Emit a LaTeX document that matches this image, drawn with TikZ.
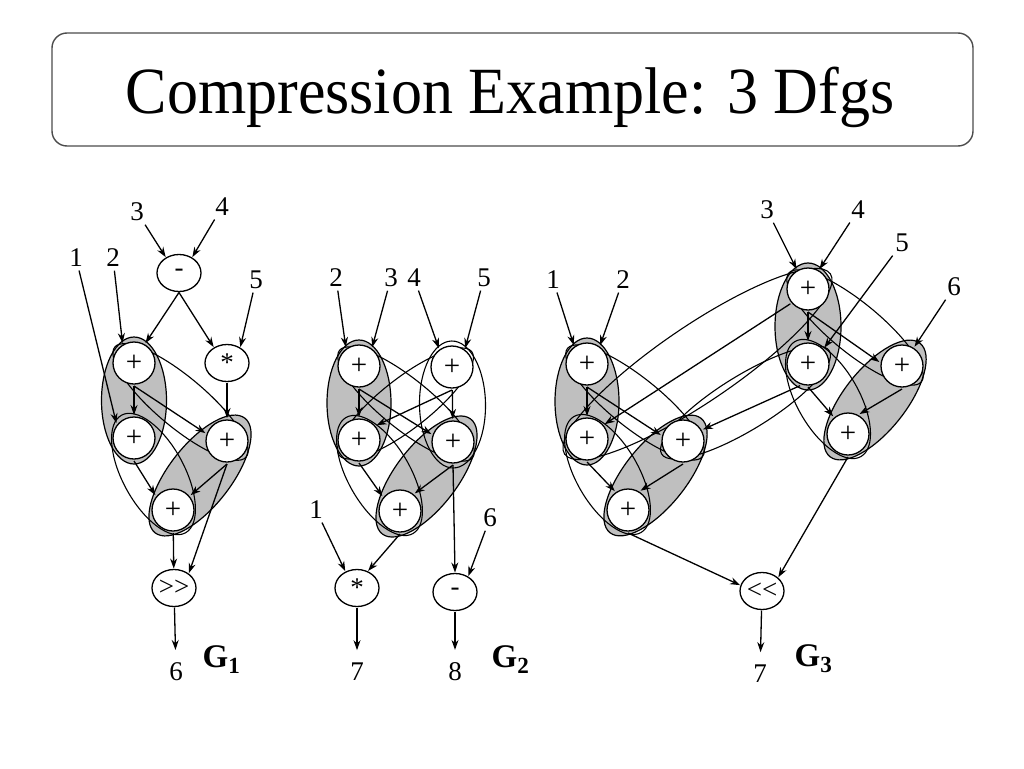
\documentclass[tikz,border=0pt]{standalone}
\usepackage{fontspec}
\setmainfont{Liberation Serif}
\usepackage{graphicx}
\usetikzlibrary{arrows.meta,calc,backgrounds,shapes.geometric}
\definecolor{hullgray}{gray}{0.75}
% ellipse round two nodes: [style]{a}{b}{extra}{half width}
\newcommand{\hull}[5][pairthin]{%
  \path[#1] let \p1=($(#3)-(#2)$), \n1={atan2(\y1,\x1)}, \n2={veclen(\x1,\y1)/2}
    in ($(#2)!0.5!(#3)$) ellipse [x radius={\n2+#4pt}, y radius=#5pt, rotate=\n1];}
\begin{document}
\begin{tikzpicture}[x=1pt,y=-1pt,line width=1.3pt,>={Stealth[length=10pt,width=7pt]},
	addnode/.style={circle,draw,fill=white,minimum size=42pt,inner sep=0pt,outer sep=2pt,font=\fontsize{29}{29}\selectfont},
	opnode/.style={ellipse,draw,fill=white,minimum width=44pt,minimum height=37pt,inner sep=0pt,outer sep=1pt,font=\fontsize{27}{27}\selectfont},
	inlbl/.style={inner sep=3pt,font=\fontsize{27}{27}\selectfont},
	outlbl/.style={inner sep=0pt,outer ysep=13pt,font=\fontsize{27}{27}\selectfont},
	glbl/.style={inner sep=0pt,font=\fontsize{33}{33}\selectfont\bfseries},
	pairshaded/.style={draw,fill=hullgray,line width=1.2pt},
	pairthin/.style={draw,line width=1.1pt},
	titlebox/.style={draw=black!70,line width=1.4pt,rounded corners=15pt,minimum width=921pt,minimum height=113pt}]
		\useasboundingbox (0,0) rectangle (1024,768);
		
		% title
		\node[titlebox] (tbox) at (512.5,89.5) {};
		\node[anchor=base,inner sep=0pt,font=\fontsize{66}{70}\selectfont] (ttext) at (510,113) {\scalebox{0.94}[1]{Compression Example: 3 Dfgs}};
		
		% G1
		\node[opnode] (g1sub) at (179,273) {-};
		\node[opnode] (g1mul) at (227,363) {*};
		\node[addnode] (g1a1) at (134,363) {+};
		\node[addnode] (g1a2) at (134,438) {+};
		\node[addnode] (g1a3) at (227,441) {+};
		\node[addnode] (g1a4) at (173,510) {+};
		\node[opnode] (g1shr) at (174,588) {>{}>};
		\node[inlbl] (g1i1) at (76,258) {1};
		\node[inlbl] (g1i2) at (113,258) {2};
		\node[inlbl] (g1i3) at (137,212) {3};
		\node[inlbl] (g1i4) at (222,207) {4};
		\node[inlbl] (g1i5) at (256,280) {5};
		\node[outlbl] (g1o) at (176,672) {6};
		\node[glbl,anchor=base west] (g1name) at (202,667) {G\textsubscript{1}};
		
		\draw[->] (g1i3) -- (g1sub.130);
		\draw[->] (g1i4) -- (g1sub.50);
		\draw[->] (g1i1) -- (g1a2.140);
		\draw[->] (g1i2) -- (g1a1.120);
		\draw[->] (g1i5) -- (g1mul.50);
		\draw[->] (g1sub.south) -- (g1a1.60);
		\draw[->] (g1sub.south) -- (g1mul.130);
		\draw[->] (g1a1) -- (g1a2);
		\draw[->] (g1a1.south) -- (g1a3.160);
		\draw[->] (g1mul) -- (g1a3);
		\draw[->] (g1a2.south) -- (g1a4.140);
		\draw[->] (g1a3.south) -- (g1a4.40);
		\draw[->] (g1a3.south) -- (g1shr.45);
		\draw[->] (g1a4) -- (g1shr);
		\draw[->] (g1shr) -- (g1o);
		
		% G2
		\node[addnode] (g2a1) at (359,366) {+};
		\node[addnode] (g2a2) at (452,367) {+};
		\node[addnode] (g2a3) at (359,440) {+};
		\node[addnode] (g2a4) at (453,442) {+};
		\node[addnode] (g2a5) at (400,511) {+};
		\node[opnode] (g2mul) at (357,588) {*};
		\node[opnode] (g2sub) at (455,592) {-};
		\node[inlbl] (g2i2) at (336,278) {2};
		\node[inlbl] (g2i3) at (391,278) {3};
		\node[inlbl] (g2i4) at (414,278) {4};
		\node[inlbl] (g2i5) at (484,278) {5};
		\node[inlbl] (g2i1) at (316,510) {1};
		\node[inlbl] (g2i6) at (490,518) {6};
		\node[outlbl] (g2o7) at (357,672) {7};
		\node[outlbl] (g2o8) at (455,672) {8};
		\node[glbl,anchor=base west] (g2name) at (491,667) {G\textsubscript{2}};
		
		\draw[->] (g2i2) -- (g2a1.125);
		\draw[->] (g2i3) -- (g2a1.55);
		\draw[->] (g2i4) -- (g2a2.125);
		\draw[->] (g2i5) -- (g2a2.55);
		\draw[->] (g2a1) -- (g2a3);
		\draw[->] (g2a1.south) -- (g2a4.160);
		\draw[->] (g2a2.south) -- (g2a3.40);
		\draw[->] (g2a2) -- (g2a4);
		\draw[->] (g2a3.south) -- (g2a5.140);
		\draw[->] (g2a4.south) -- (g2a5.50);
		\draw[->] (g2a5.south) -- (g2mul.57);
		\draw[->] (g2i1) -- (g2mul.125);
		\draw[->] (g2a4.south) -- (g2sub.north);
		\draw[->] (g2i6) -- (g2sub.50);
		\draw[->] (g2mul) -- (g2o7);
		\draw[->] (g2sub) -- (g2o8);
		
		% G3
		\node[addnode] (g3a1) at (587,364) {+};
		\node[addnode] (g3a2) at (587,439) {+};
		\node[addnode] (g3a3) at (683,441) {+};
		\node[addnode] (g3a4) at (628,510) {+};
		\node[addnode] (g3a5) at (808,289) {+};
		\node[addnode] (g3a6) at (808,364) {+};
		\node[addnode] (g3a7) at (902,366) {+};
		\node[addnode] (g3a8) at (848,434) {+};
		\node[opnode] (g3shl) at (762,591) {<{}<};
		\node[inlbl] (g3i1) at (553,280) {1};
		\node[inlbl] (g3i2) at (623,280) {2};
		\node[inlbl] (g3i3) at (767,210) {3};
		\node[inlbl] (g3i4) at (858,210) {4};
		\node[inlbl] (g3i5) at (902,243) {5};
		\node[inlbl] (g3i6) at (954,287) {6};
		\node[outlbl] (g3o) at (760,674) {7};
		\node[glbl,anchor=base west] (g3name) at (794,666) {G\textsubscript{3}};
		
		\draw[->] (g3i1) -- (g3a1.125);
		\draw[->] (g3i2) -- (g3a1.55);
		\draw[->] (g3i3) -- (g3a5.120);
		\draw[->] (g3i4) -- (g3a5.60);
		\draw[->] (g3i5) -- (g3a6.45);
		\draw[->] (g3i6) -- (g3a7.57);
		\draw[->] (g3a1) -- (g3a2);
		\draw[->] (g3a1.south) -- (g3a3.165);
		\draw[->] (g3a5.220) -- (g3a2.40);
		\draw[->] (g3a5) -- (g3a6);
		\draw[->] (g3a5.south) -- (g3a7.170);
		\draw[->] (g3a6.250) -- (g3a3.30);
		\draw[->] (g3a6.south) -- (g3a8.130);
		\draw[->] (g3a7.south) -- (g3a8.60);
		\draw[->] (g3a2.south) -- (g3a4.125);
		\draw[->] (g3a3.south) -- (g3a4.57);
		\draw[->] (g3a4.south) -- (g3shl.165);
		\draw[->] (g3a8.south) -- (g3shl.40);
		\draw[->] (g3shl) -- (g3o);
		
		% groups
		\begin{pgfonlayer}{background}
			\hull[pairshaded]{g1a1}{g1a2}{26}{32.5}
			\hull[pairshaded]{g1a4}{g1a3}{29}{31}
			\hull{g1a1}{g1a3}{25}{25}
			\hull{g1a2}{g1a4}{26}{31}
			
			\hull[pairshaded]{g2a1}{g2a3}{26}{32}
			\hull[pairshaded]{g2a5}{g2a4}{29}{31}
			\hull{g2a2}{g2a4}{26}{33}
			\hull{g2a1}{g2a4}{25}{25}
			\hull{g2a2}{g2a3}{25}{25}
			\hull{g2a3}{g2a5}{26}{31}
			
			\hull[pairshaded]{g3a1}{g3a2}{26}{32}
			\hull[pairshaded]{g3a5}{g3a6}{26}{33}
			\hull[pairshaded]{g3a4}{g3a3}{29}{31}
			\hull[pairshaded]{g3a8}{g3a7}{29}{31}
			\hull{g3a1}{g3a3}{25}{25}
			\hull{g3a2}{g3a4}{26}{31}
			\hull{g3a5}{g3a7}{25}{25}
			\hull{g3a6}{g3a8}{26}{31}
			\hull{g3a2}{g3a5}{27}{38}
			\hull{g3a3}{g3a6}{25}{27}
		\end{pgfonlayer}
	\end{tikzpicture}
\end{document}
